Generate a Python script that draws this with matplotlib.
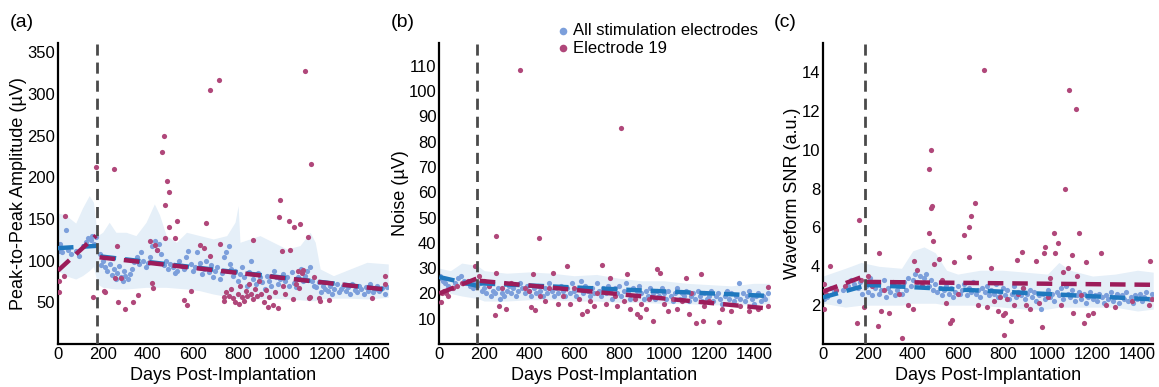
import numpy as np
import matplotlib.pyplot as plt

plt.rcParams['font.family'] = ['Liberation Sans', 'DejaVu Sans']

# ---------------- panel (a): peak-to-peak amplitude ----------------
a_blue_x = [2, 5, 10, 20, 34, 45, 60, 80, 95, 110, 125, 135, 145, 150, 160, 168,
            185, 190, 200, 210, 220, 230, 240, 250, 258, 265, 270, 280, 290, 295, 300, 310, 320, 330, 340, 350, 360, 370, 380, 390, 400,
            410, 420, 430, 440, 450, 460, 470, 480, 490, 500, 510, 520, 530, 540, 550, 560, 570, 580, 590, 600,
            610, 620, 630, 640, 650, 660, 670, 680, 690, 700, 710, 720, 730, 740, 750, 760, 765, 770, 780, 790, 800, 810, 820, 830, 840, 850, 860, 870, 880, 890, 900,
            910, 920, 930, 940, 950, 960, 970, 980, 990, 1000, 1010, 1020, 1030, 1040, 1050, 1060, 1070, 1080, 1090, 1100, 1110, 1120, 1130, 1140, 1150, 1160, 1170, 1180, 1190, 1200,
            1210, 1220, 1230, 1240, 1250, 1260, 1270, 1280, 1290, 1300, 1310, 1320, 1330, 1340, 1350, 1360, 1370, 1380, 1390, 1400, 1410, 1420, 1430, 1440, 1455, 1465]
a_blue_y = [118, 112, 120, 110, 137, 113, 108, 112, 105, 118, 122, 127, 125, 130, 120, 128,
            108, 95, 100, 92, 88, 96, 83, 90, 78, 85, 93, 80, 75, 88, 82, 78, 84, 90, 98, 104, 96, 110, 100, 92, 97,
            104, 118, 124, 113, 120, 108, 95, 100, 90, 96, 92, 85, 88, 100, 94, 90, 104, 112, 96, 88,
            92, 110, 97, 84, 90, 100, 86, 95, 80, 88, 92, 78, 85, 104, 110, 118, 96, 90, 82, 88, 76, 84, 92, 80, 70, 86, 100, 78, 72, 85, 80,
            74, 66, 82, 76, 70, 88, 80, 72, 78, 84, 75, 80, 70, 86, 73, 68, 80, 90, 75, 82, 88, 92, 76, 70, 68, 74, 62, 70, 66, 64,
            70, 60, 66, 72, 62, 66, 70, 63, 68, 60, 72, 65, 62, 70, 66, 60, 68, 64, 72, 62, 66, 70, 63, 67, 60, 68]
a_red_x = [5, 5, 25, 33, 157, 170, 204, 210, 250, 252, 265, 268, 279, 300, 335, 356, 408, 420, 425, 432, 443, 462, 470, 476, 476,
           484, 492, 495, 522, 529, 562, 573, 592, 634, 650, 659, 675, 675, 716, 723, 741, 741, 750, 760, 770, 780, 790, 800, 805,
           812, 820, 828, 835, 842, 850, 858, 866, 866, 875, 885, 895, 905, 915, 925, 933, 940, 955, 965, 978, 985, 988, 995, 1000,
           1010, 1029, 1033, 1048, 1051, 1060, 1070, 1073, 1078, 1085, 1090, 1100, 1112, 1118, 1122, 1127, 1141, 1160, 1165, 1208,
           1398, 1455, 1455]
a_red_y = [75, 62, 82, 153, 56, 212, 63, 62, 210, 79, 117, 50, 79, 42, 51, 59, 124, 73, 67, 119, 113, 230, 250, 167, 127,
           195, 182, 140, 127, 148, 53, 47, 64, 119, 115, 145, 304, 105, 317, 120, 57, 52, 62, 58, 66, 55, 50, 60, 48,
           70, 56, 52, 64, 58, 72, 60, 125, 54, 66, 58, 75, 60, 50, 65, 44, 56, 47, 62, 43, 152, 173, 112, 70,
           60, 148, 113, 54, 140, 72, 87, 67, 144, 85, 89, 327, 128, 55, 57, 216, 80, 55, 52, 53,
           55, 82, 72]
a_band_x = [0, 33, 79, 109, 139, 158, 176, 199, 228, 258, 303, 347, 392, 429, 452, 482, 527, 572, 631, 691, 751, 788, 802, 810,
            899, 958, 1018, 1077, 1122, 1145, 1167, 1226, 1300, 1375, 1470]
a_band_hi = [157, 155, 145, 163, 178, 170, 130, 134, 146, 134, 134, 130, 146, 168, 155, 130, 122, 134, 130, 126, 130, 146, 166, 122,
             130, 122, 114, 118, 134, 122, 90, 82, 90, 98, 96]
a_band_lo = [88, 82, 78, 82, 88, 93, 72, 68, 67, 66, 66, 67, 68, 68, 68, 68, 67, 66, 64, 60, 57, 55, 55, 54,
             54, 55, 54, 53, 52, 52, 54, 55, 55, 54, 56]
a_trend_blue = [([0, 190], [115, 118]), ([190, 1470], [105, 65])]
a_trend_red = [([0, 170], [88, 130]), ([185, 1470], [104, 65])]

# ---------------- panel (b): noise ----------------
b_blue_x = [3, 8, 15, 25, 40, 55, 70, 85, 95, 110, 120, 135, 150, 160, 168,
            180, 190, 200, 210, 220, 230, 240, 250, 260, 270, 280, 290, 300, 310, 320, 330, 340, 350, 360, 370, 380, 390, 400,
            410, 420, 430, 440, 450, 460, 470, 480, 490, 500, 510, 520, 530, 540, 550, 560, 570, 580, 590, 600,
            610, 620, 630, 640, 650, 660, 670, 680, 690, 700, 710, 720, 730, 740, 750, 760, 770, 780, 790, 800,
            810, 820, 830, 840, 850, 860, 870, 880, 890, 900, 910, 920, 930, 940, 950, 960, 970, 980, 990, 1000,
            1010, 1020, 1030, 1040, 1050, 1060, 1070, 1080, 1090, 1100, 1110, 1120, 1130, 1140, 1150, 1160, 1170, 1180, 1190, 1200,
            1210, 1220, 1230, 1240, 1250, 1260, 1270, 1280, 1290, 1300, 1310, 1320, 1333, 1340, 1350, 1360, 1370, 1380, 1390, 1400,
            1410, 1420, 1430, 1440, 1450, 1465]
b_blue_y = [27, 26, 25, 24, 23, 22, 24, 26, 27, 25, 24, 23, 22, 24, 23,
            24, 21, 22, 20, 23, 19, 21, 20, 22, 18, 20, 19, 21, 23, 20, 22, 19, 21, 24, 22, 20, 23, 21,
            19, 22, 20, 23, 21, 19, 22, 20, 24, 21, 19, 22, 20, 23, 21, 19, 22, 20, 24, 21,
            19, 22, 25, 20, 23, 21, 19, 22, 20, 24, 21, 19, 22, 20, 23, 21, 18, 22, 20, 23,
            19, 21, 24, 20, 18, 22, 19, 21, 23, 20, 18, 21, 19, 22, 20, 18, 21, 19, 22, 20,
            18, 21, 19, 17, 20, 22, 18, 20, 19, 21, 17, 19, 20, 18, 21, 19, 17, 20, 18, 19,
            21, 17, 19, 20, 18, 16, 19, 21, 18, 20, 17, 19, 24, 18, 20, 17, 19, 21, 18, 16,
            19, 20, 17, 19, 18, 20]
b_red_x = [7, 14, 22, 30, 40, 60, 80, 100, 130, 161, 175, 200, 220, 246, 254, 254, 268, 280, 298, 320, 358, 380, 400, 410,
           418, 425, 443, 450, 470, 490, 507, 530, 550, 567, 580, 600, 620, 634, 656, 670, 690, 700, 725, 740, 760, 780,
           790, 808, 820, 835, 850, 870, 880, 892, 900, 920, 935, 951, 969, 981, 1000, 1020, 1040, 1060, 1080, 1096, 1110,
           1120, 1143, 1163, 1172, 1180, 1200, 1245, 1260, 1300, 1340, 1379, 1420, 1461, 1465]
b_red_y = [16.5, 20, 21, 20.3, 19, 22, 23, 24, 25, 31, 27, 25, 23, 11.5, 42.8, 28, 15, 22, 14, 24, 108.4, 22, 21, 14.5,
           27.7, 13.5, 42, 19, 17, 22, 28, 16, 19, 31, 16, 22, 18, 12, 13, 17, 15, 20, 31.3, 16, 26, 19,
           15, 85.5, 17, 27.8, 14, 18, 12, 10.5, 16, 14, 18, 9.3, 29.6, 28, 16, 13, 18, 14, 17, 26, 12,
           20, 8.5, 27.8, 9, 15, 17, 8.7, 14, 13, 15, 13, 14, 22.6, 15]
b_band_x = [0, 50, 100, 170, 200, 300, 400, 500, 600, 700, 800, 900, 1000, 1100, 1200, 1300, 1400, 1470]
b_band_hi = [30, 29, 32, 31, 29, 28, 28.5, 28, 27, 27.5, 26, 25, 25, 24, 23.5, 23, 24, 24]
b_band_lo = [22, 20, 19, 18, 17, 17, 17.5, 17.5, 17, 17, 16.5, 16.5, 16, 16, 15.5, 15.5, 15.5, 16]
b_trend_blue = [([0, 170], [26.5, 23]), ([180, 1470], [24, 19])]
b_trend_red = [([0, 170], [20, 26]), ([180, 1470], [25, 14])]

# ---------------- panel (c): waveform SNR ----------------
c_blue_x = [3, 10, 20, 35, 50, 70, 90, 110, 125, 140, 155, 165, 175,
            190, 200, 210, 220, 230, 240, 250, 260, 270, 280, 290, 300, 310, 320, 330, 340, 350, 360, 370, 380, 390, 400,
            410, 420, 430, 440, 450, 460, 470, 480, 490, 500, 510, 520, 530, 540, 550, 560, 570, 580, 590, 600,
            610, 620, 630, 640, 650, 660, 670, 680, 690, 700, 710, 720, 730, 740, 750, 760, 770, 780, 790, 800,
            810, 820, 830, 840, 850, 860, 870, 880, 890, 900, 910, 920, 930, 940, 950, 960, 970, 980, 990, 1000,
            1010, 1020, 1030, 1040, 1050, 1060, 1070, 1080, 1090, 1100, 1110, 1120, 1130, 1140, 1150, 1160, 1170, 1180, 1190, 1200,
            1210, 1220, 1230, 1240, 1250, 1260, 1270, 1280, 1290, 1300, 1310, 1320, 1330, 1340, 1350, 1360, 1370, 1380, 1390, 1400,
            1410, 1420, 1430, 1440, 1455, 1465]
c_blue_y = [2.3, 2.6, 2.4, 2.9, 2.7, 2.2, 2.8, 3.0, 3.3, 3.1, 2.9, 3.2, 2.6,
            3.0, 2.7, 3.4, 2.5, 2.9, 3.1, 2.6, 2.8, 3.3, 2.4, 2.9, 2.7, 3.1, 2.5, 2.8, 3.0, 2.6, 3.2, 2.8, 3.4, 3.0, 3.3,
            3.6, 3.2, 3.5, 3.1, 3.4, 3.6, 3.0, 3.3, 2.8, 3.1, 2.7, 2.9, 2.5, 2.8, 3.0, 2.6, 2.9, 2.4, 2.7, 3.0,
            2.6, 2.8, 3.1, 2.5, 2.9, 2.7, 3.2, 2.6, 2.8, 2.4, 2.9, 2.7, 3.0, 2.5, 2.8, 2.6, 3.1, 2.4, 2.7, 2.9,
            2.5, 2.8, 2.3, 2.6, 3.0, 2.4, 2.7, 2.5, 2.9, 2.3, 2.6, 2.8, 2.4, 2.7, 2.2, 2.5, 1.8, 2.6, 2.3, 2.8,
            2.4, 2.6, 2.2, 2.7, 2.5, 2.9, 2.3, 3.0, 2.6, 2.4, 2.8, 2.2, 2.5, 2.7, 2.3, 2.6, 2.1, 2.4, 2.7, 2.3,
            2.5, 2.2, 2.6, 2.4, 2.1, 2.5, 2.3, 2.7, 2.2, 2.4, 2.6, 2.1, 2.5, 2.3, 2.7, 2.2, 2.4, 2.1, 2.5, 2.3,
            2.6, 2.2, 2.4, 2.7, 2.3, 2.6]
c_red_x = [4, 4, 15, 31, 60, 100, 153, 161, 170, 183, 200, 220, 246, 250, 258, 270, 295, 310, 340, 352, 380, 400, 407, 420,
           440, 470, 474, 479, 483, 486, 490, 495, 518, 530, 550, 565, 573, 582, 600, 630, 650, 652, 657, 675, 690, 716,
           730, 746, 760, 780, 790, 800, 806, 810, 820, 836, 850, 862, 870, 884, 890, 905, 920, 948, 960, 977, 986, 988,
           1000, 1010, 1030, 1031, 1048, 1060, 1070, 1078, 1090, 1097, 1110, 1115, 1127, 1130, 1139, 1150, 1161, 1172,
           1180, 1200, 1239, 1260, 1300, 1376, 1451, 1457, 1465]
c_red_y = [1.8, 3.1, 2.6, 4.0, 2.8, 3.0, 1.1, 6.4, 3.3, 1.9, 3.5, 3.0, 0.95, 4.7, 1.7, 2.8, 1.6, 3.2, 2.6, 0.3, 2.0, 1.8, 4.3, 3.8,
           3.0, 9.0, 5.7, 10.0, 7.0, 7.1, 5.3, 4.1, 4.4, 3.3, 2.1, 1.1, 1.25, 4.2, 2.6, 5.6, 4.5, 6.0, 6.6, 7.25, 2.0, 14.1,
           1.9, 3.9, 2.2, 1.7, 2.4, 1.5, 0.45, 1.6, 2.3, 1.2, 2.0, 4.35, 2.6, 4.75, 2.9, 2.0, 1.8, 4.3, 2.1, 0.9, 4.7, 5.0,
           2.4, 3.4, 5.7, 4.7, 5.2, 2.0, 3.7, 8.0, 3.9, 13.1, 4.6, 1.6, 12.1, 3.5, 5.7, 2.5, 1.1, 4.2,
           1.5, 1.6, 4.7, 2.0, 1.9, 2.2, 2.0, 4.3, 2.3]
c_band_x = [0, 100, 170, 250, 350, 400, 450, 500, 550, 600, 700, 800, 900, 1000, 1050, 1100, 1200, 1300, 1400, 1470]
c_band_hi = [3.5, 3.9, 4.2, 4.0, 3.9, 4.8, 5.0, 4.7, 3.8, 3.6, 3.8, 3.8, 3.7, 3.6, 4.2, 3.8, 3.5, 3.6, 3.8, 3.7]
c_band_lo = [2.1, 1.9, 2.0, 2.0, 2.0, 2.1, 2.1, 2.1, 2.0, 2.0, 2.0, 1.9, 1.8, 1.8, 1.9, 1.9, 1.9, 1.9, 1.7, 1.8]
c_trend_blue = [([0, 185], [2.4, 3.0]), ([190, 1470], [3.05, 2.3])]
c_trend_red = [([0, 185], [2.7, 3.5]), ([190, 1470], [3.2, 3.05])]

panels = [
    ('(a)', 'Peak-to-Peak Amplitude (µV)', a_blue_x, a_blue_y, a_red_x, a_red_y, a_band_x, a_band_hi, a_band_lo,
     a_trend_blue, a_trend_red, 172, (0, 361), range(50, 351, 50), [0.050, 0.335]),
    ('(b)', 'Noise (µV)', b_blue_x, b_blue_y, b_red_x, b_red_y, b_band_x, b_band_hi, b_band_lo,
     b_trend_blue, b_trend_red, 170, (0, 119), range(10, 111, 10), [0.379, 0.664]),
    ('(c)', 'Waveform SNR (a.u.)', c_blue_x, c_blue_y, c_red_x, c_red_y, c_band_x, c_band_hi, c_band_lo,
     c_trend_blue, c_trend_red, 186, (0, 15.5), range(2, 15, 2), [0.710, 0.995]),
]

blue_dot = '#7c9fdb'
red_dot = '#b0477a'
blue_line = '#1f78be'
red_line = '#9c1c5a'
band_col = '#e5eff8'

fig = plt.figure(figsize=(11.59, 3.87), dpi=100)

for (lab, ylab, bx, by, rx, ry, fx, fhi, flo, tb, tr, vline, ylim, yticks, lr) in panels:
    ax = fig.add_axes([lr[0], 0.111, lr[1] - lr[0], 0.778])
    ax.fill_between(fx, flo, fhi, color=band_col, lw=0, zorder=1)
    ax.scatter(bx, by, s=14, color=blue_dot, lw=0, zorder=2)
    ax.scatter(rx, ry, s=14, color=red_dot, lw=0, zorder=3)
    for xs, ys in tb:
        ax.plot(xs, ys, color=blue_line, lw=3.2, dashes=(3.5, 2), zorder=4)
    for xs, ys in tr:
        ax.plot(xs, ys, color=red_line, lw=3.2, dashes=(3.5, 2), zorder=5)
    ax.axvline(vline, color='#4a4a4a', lw=2, dashes=(4, 2.5), zorder=6)
    ax.set_xlim(0, 1470)
    ax.set_ylim(*ylim)
    ax.set_xticks(range(0, 1401, 200))
    ax.set_yticks(list(yticks))
    ax.tick_params(length=0, labelsize=12, pad=2)
    for s in ['top', 'right']:
        ax.spines[s].set_visible(False)
    for s in ['left', 'bottom']:
        ax.spines[s].set_linewidth(1.6)
    ax.set_xlabel('Days Post-Implantation', fontsize=13, labelpad=4)
    ax.set_ylabel(ylab, fontsize=13, labelpad=0)
    fig.text(lr[0] - 0.042, 0.965, lab, fontsize=14, va='top', ha='left')
    if lab == '(b)':
        h1 = ax.scatter([], [], s=30, color=blue_dot, lw=0)
        h2 = ax.scatter([], [], s=30, color=red_dot, lw=0)
        fig.legend([h1, h2], ['All stimulation electrodes', 'Electrode 19'], loc='upper left',
                   bbox_to_anchor=(0.47, 0.962), frameon=False, fontsize=12,
                   handletextpad=0.0, labelspacing=0.15, borderpad=0, handlelength=1.2)

fig.savefig('out.png', dpi=100)
